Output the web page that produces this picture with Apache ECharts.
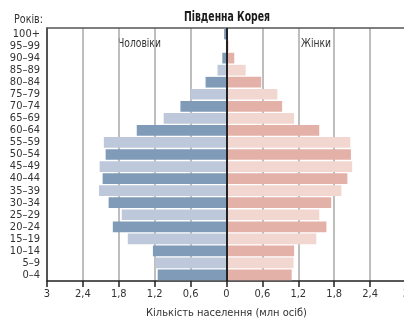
<!DOCTYPE html>
<html>
<head>
<meta charset="utf-8">
<script src="https://cdn.jsdelivr.net/npm/echarts@6/dist/echarts.min.js"></script>
<style>
  html, body { margin: 0; padding: 0; background: #fff; }
  #chart { width: 404px; height: 321px; }
</style>
</head>
<body>
<div id="chart"></div>
<script>
// Age groups, youngest at the bottom
const ageGroups = ['0–4', '5–9', '10–14', '15–19', '20–24', '25–29', '30–34', '35–39', '40–44',
  '45–49', '50–54', '55–59', '60–64', '65–69', '70–74', '75–79', '80–84', '85–89', '90–94', '95–99', '100+'];

// Population, millions
const males = [1.15, 1.19, 1.23, 1.65, 1.90, 1.75, 1.97, 2.13, 2.07, 2.12, 2.02, 2.05, 1.50, 1.05, 0.77, 0.60, 0.35, 0.15, 0.07, 0.01, 0.04];
const females = [1.09, 1.12, 1.13, 1.50, 1.67, 1.55, 1.75, 1.92, 2.02, 2.10, 2.08, 2.07, 1.55, 1.13, 0.93, 0.85, 0.58, 0.32, 0.13, 0.04, 0.01];

const xTicks = { min: -3, max: 3, step: 0.6 };

const FONT = '"Liberation Sans Narrow", "DejaVu Sans Condensed", sans-serif';
const maleColors = ['#7f9bb8', '#bdc9da'];
const femaleColors = ['#e4b1a8', '#f2d6d0'];

function tickText(v) {
  const a = Math.abs(Math.round(v * 10) / 10);
  return String(a).replace('.', ',');
}

// narrow text helper (condensed look)
function label(text, x, y, size, opts) {
  opts = opts || {};
  return {
    type: 'text', x: x, y: y, scaleX: opts.scaleX || 0.85, silent: true,
    style: {
      text: text, fill: opts.fill || '#333',
      font: (opts.bold ? 'bold ' : '') + size + 'px ' + FONT,
      textAlign: opts.align || 'left', textVerticalAlign: 'middle'
    }
  };
}

const chart = echarts.init(document.getElementById('chart'));
chart.setOption({
  animation: false,
  textStyle: { fontFamily: FONT },
  graphic: [
    label('Південна Корея', 227, 17, 14, { bold: true, align: 'center', fill: '#1a1a1a', scaleX: 0.74 }),
    label('Років:', 14, 20, 13, { scaleX: 0.82 }),
    label('Чоловіки', 118, 44, 12),
    label('Жінки', 301, 44, 12)
  ],
  grid: { left: 47, top: 28, width: 359, height: 253, outerBoundsMode: 'none', containLabel: false },
  xAxis: [
    {
      type: 'value', min: xTicks.min, max: xTicks.max, interval: xTicks.step,
      name: 'Кількість населення (млн осіб)',
      nameLocation: 'middle', nameGap: 27,
      nameTextStyle: { fontFamily: FONT, fontSize: 11, color: '#333' },
      axisLine: { show: true, onZero: false, lineStyle: { color: '#222', width: 1.5 } },
      axisTick: { show: true, length: 6, lineStyle: { color: '#222', width: 1.5 } },
      axisLabel: { fontFamily: FONT, fontSize: 11, color: '#333', margin: 8, formatter: tickText },
      splitLine: { show: true, lineStyle: { color: '#a8a8a8', width: 1.5 } }
    },
    {
      type: 'value', position: 'top', min: xTicks.min, max: xTicks.max, interval: xTicks.step,
      axisLine: { show: true, onZero: false, lineStyle: { color: '#555', width: 1.5 } },
      axisTick: { show: false }, axisLabel: { show: false }, splitLine: { show: false }
    }
  ],
  yAxis: {
    type: 'category', data: ageGroups,
    axisLine: { show: true, onZero: false, lineStyle: { color: '#333', width: 1.5 } },
    axisTick: { show: false },
    axisLabel: { fontFamily: FONT, fontSize: 11, color: '#333', margin: 7, interval: 0 }
  },
  series: [
    {
      name: 'Чоловіки', type: 'bar', barGap: '-100%', barCategoryGap: '11%',
      data: males.map(v => -v),
      itemStyle: { color: p => maleColors[p.dataIndex % 2] }
    },
    {
      name: 'Жінки', type: 'bar', barGap: '-100%', barCategoryGap: '11%',
      data: females,
      itemStyle: { color: p => femaleColors[p.dataIndex % 2] },
      markLine: {
        silent: true, symbol: 'none', label: { show: false },
        lineStyle: { color: '#222', width: 2, type: 'solid' },
        data: [{ xAxis: 0 }]
      }
    }
  ]
});
</script>
</body>
</html>
